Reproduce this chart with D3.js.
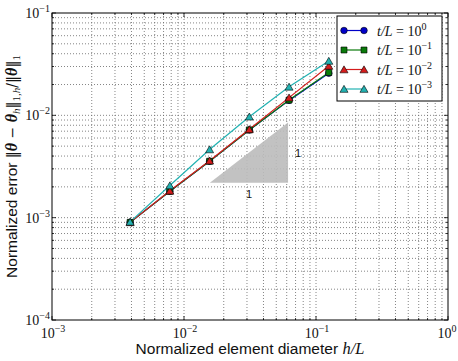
<!DOCTYPE html>
<html>
<head>
<meta charset="utf-8">
<script src="https://cdn.jsdelivr.net/npm/d3@7"></script>
<style>
  body { margin: 0; background: #fff; }
  svg text { fill: #111; }
  .tick-label { font-family: "Liberation Serif", serif; font-size: 14px; }
  .axis-label { font-family: "Liberation Sans", Arial, sans-serif; font-size: 15.5px; }
  .math { font-family: "Liberation Serif", serif; font-style: italic; }
</style>
</head>
<body>
<script>
// mesh sizes h/L
const hValues = [1/256, 1/128, 1/64, 1/32, 1/16, 1/8];
// normalized errors
const err1 = [9.0e-4, 1.81e-3, 3.56e-3, 7.2e-3, 0.0140, 0.0258];
const err2 = [9.0e-4, 1.81e-3, 3.56e-3, 7.2e-3, 0.0141, 0.0262];
const err3 = [9.0e-4, 1.83e-3, 3.60e-3, 7.3e-3, 0.0149, 0.0304];
const err4 = [9.1e-4, 2.06e-3, 4.64e-3, 9.7e-3, 0.0190, 0.0340];
const seriesNames = ["0", "-1", "-2", "-3"];
const xTickExps = [-3, -2, -1, 0];
const yTickExps = [-4, -3, -2, -1];
// slope triangle (slope 1)
const triX = [0.0157, 0.0614];
const triY = [2.19e-3, 8.5e-3];

const W = 458, H = 361;
const margin = {left: 52, right: 10, top: 13, bottom: 41};

const svg = d3.select("body").append("svg")
  .attr("width", W).attr("height", H);

const x = d3.scaleLog().domain([1e-3, 1]).range([margin.left, W - margin.right]);
const y = d3.scaleLog().domain([1e-4, 1e-1]).range([H - margin.bottom, margin.top]);

// minor + major values
function logTicks(lo, hi) {
  let out = [];
  for (let e = lo; e < hi; e++) {
    for (let m = 1; m < 10; m++) out.push(m * Math.pow(10, e));
  }
  out.push(Math.pow(10, hi));
  return out;
}
const xAll = logTicks(-3, 0);
const yAll = logTicks(-4, -1);

// grid
const grid = svg.append("g");
grid.selectAll(".gx").data(xAll.slice(1, -1)).enter().append("line")
  .attr("x1", d => x(d)).attr("x2", d => x(d))
  .attr("y1", y(1e-4)).attr("y2", y(1e-1))
  .attr("stroke", "#666").attr("stroke-width", 0.8).attr("stroke-dasharray", "1,2");
grid.selectAll(".gy").data(yAll.slice(1, -1)).enter().append("line")
  .attr("x1", x(1e-3)).attr("x2", x(1))
  .attr("y1", d => y(d)).attr("y2", d => y(d))
  .attr("stroke", "#666").attr("stroke-width", 0.8).attr("stroke-dasharray", "1,2");

// triangle
svg.append("path")
  .attr("d", d3.line()([[x(triX[0]), y(triY[0])], [x(triX[1]), y(triY[0])], [x(triX[1]), y(triY[1])]]) + "Z")
  .attr("fill", "#bbb").attr("opacity", 0.9);
svg.append("text").style("font-family", "'Liberation Sans', sans-serif").style("font-size", "11px")
  .attr("x", x(Math.sqrt(triX[0] * triX[1])))
  .attr("y", y(triY[0]) + 15).attr("text-anchor", "middle").text("1");
svg.append("text").style("font-family", "'Liberation Sans', sans-serif").style("font-size", "11px")
  .attr("x", x(triX[1]) + 10)
  .attr("y", y(Math.sqrt(triY[0] * triY[1])) + 4).attr("text-anchor", "middle").text("1");

// series
const series = [
  {vals: err1, color: "#0000c8", marker: "circle"},
  {vals: err2, color: "#0a7a0a", marker: "square"},
  {vals: err3, color: "#d41c1c", marker: "triangle"},
  {vals: err4, color: "#22b2b2", marker: "triangle"}
];
const symbolOf = {circle: d3.symbolCircle, square: d3.symbolSquare, triangle: d3.symbolTriangle};
const sizeOf = {circle: 34, square: 36, triangle: 28};

const line = d3.line().x((d, i) => x(hValues[i])).y(d => y(d));
series.forEach(s => {
  svg.append("path").datum(s.vals)
    .attr("d", line).attr("fill", "none")
    .attr("stroke", s.color).attr("stroke-width", 1.2);
});
series.forEach(s => {
  svg.selectAll(null).data(s.vals).enter().append("path")
    .attr("d", d3.symbol().type(symbolOf[s.marker]).size(sizeOf[s.marker]))
    .attr("transform", (d, i) => `translate(${x(hValues[i])},${y(d) + (s.marker === "triangle" ? 1 : 0)})`)
    .attr("fill", s.color).attr("stroke", "#000").attr("stroke-width", 0.6);
});

// frame
svg.append("rect")
  .attr("x", x(1e-3)).attr("y", y(1e-1))
  .attr("width", x(1) - x(1e-3)).attr("height", y(1e-4) - y(1e-1))
  .attr("fill", "none").attr("stroke", "#000").attr("stroke-width", 1);

// ticks inside, all sides
const tk = svg.append("g").attr("stroke", "#000").attr("stroke-width", 0.8);
xAll.forEach(v => {
  const major = Math.abs(Math.log10(v) - Math.round(Math.log10(v))) < 1e-9;
  const len = major ? 4 : 2;
  tk.append("line").attr("x1", x(v)).attr("x2", x(v)).attr("y1", y(1e-4)).attr("y2", y(1e-4) - len);
  tk.append("line").attr("x1", x(v)).attr("x2", x(v)).attr("y1", y(1e-1)).attr("y2", y(1e-1) + len);
});
yAll.forEach(v => {
  const major = Math.abs(Math.log10(v) - Math.round(Math.log10(v))) < 1e-9;
  const len = major ? 4 : 2;
  tk.append("line").attr("y1", y(v)).attr("y2", y(v)).attr("x1", x(1e-3)).attr("x2", x(1e-3) + len);
  tk.append("line").attr("y1", y(v)).attr("y2", y(v)).attr("x1", x(1)).attr("x2", x(1) - len);
});

// tick labels
function powLabel(sel, e) {
  sel.append("tspan").text("10");
  sel.append("tspan").attr("dy", -6).style("font-size", "10px").text(e < 0 ? "\u2212" + (-e) : String(e));
}
xTickExps.forEach(e => {
  const t = svg.append("text").attr("class", "tick-label")
    .attr("x", x(Math.pow(10, e)) + (e === 0 ? -1 : 1)).attr("y", y(1e-4) + 18).attr("text-anchor", "middle");
  powLabel(t, e);
});
yTickExps.forEach(e => {
  const t = svg.append("text").attr("class", "tick-label")
    .attr("x", x(1e-3) - 2).attr("y", y(Math.pow(10, e)) + 5).attr("text-anchor", "end");
  powLabel(t, e);
});

// axis labels
const xl = svg.append("text").attr("class", "axis-label")
  .attr("x", (x(1e-3) + x(1)) / 2).attr("y", H - 7).attr("text-anchor", "middle");
xl.append("tspan").text("Normalized element diameter ");
xl.append("tspan").attr("class", "math").style("font-size", "16.5px").text("h/L");

const yl = svg.append("text").attr("class", "axis-label")
  .attr("transform", `translate(17,${(y(1e-4) + y(1e-1)) / 2}) rotate(-90)`)
  .attr("text-anchor", "middle");
yl.append("tspan").text("Normalized error ");
const m = "font-family:'DejaVu Serif',serif;font-size:14px;";
const th = "font-family:'Liberation Serif',serif;font-size:16px;font-weight:bold;font-style:italic";
const sub = "font-family:'Liberation Serif',serif;font-size:11px;";
yl.append("tspan").attr("style", m).text("\u2016");
yl.append("tspan").attr("style", th).text("\u03b8");
yl.append("tspan").attr("style", m).text(" \u2212 ");
yl.append("tspan").attr("style", th).text("\u03b8");
yl.append("tspan").attr("style", sub + "font-style:italic").attr("dy", 3).text("h");
yl.append("tspan").attr("style", m).attr("dy", -3).text("\u2016");
yl.append("tspan").attr("style", sub).attr("dy", 3).text("1,");
yl.append("tspan").attr("style", sub + "font-style:italic").text("h");
yl.append("tspan").attr("style", m).attr("dy", -3).text("/\u2016");
yl.append("tspan").attr("style", th).text("\u03b8");
yl.append("tspan").attr("style", m).text("\u2016");
yl.append("tspan").attr("style", sub).attr("dy", 3).text("1");

// legend
const lg = svg.append("g");
lg.append("rect").attr("x", 337).attr("y", 16).attr("width", 105).attr("height", 85)
  .attr("fill", "#fff").attr("stroke", "#000").attr("stroke-width", 1);
series.forEach((s, i) => {
  const yy = 30.5 + i * 19.5;
  lg.append("line").attr("x1", 344).attr("x2", 364).attr("y1", yy).attr("y2", yy)
    .attr("stroke", s.color).attr("stroke-width", 1.2);
  [344, 364].forEach(xx => {
    lg.append("path")
      .attr("d", d3.symbol().type(symbolOf[s.marker]).size(sizeOf[s.marker]))
      .attr("transform", `translate(${xx},${yy + (s.marker === "triangle" ? 1 : 0)})`)
      .attr("fill", s.color).attr("stroke", "#000").attr("stroke-width", 0.6);
  });
  const t = lg.append("text").attr("x", 377).attr("y", yy + 5)
    .style("font-family", "'Liberation Serif', serif").style("font-size", "14px");
  t.append("tspan").style("font-style", "italic").text("t/L");
  t.append("tspan").text(" = 10");
  t.append("tspan").attr("dy", -6).style("font-size", "10px")
    .text(seriesNames[i].replace("-", "\u2212"));
});
</script>
</body>
</html>
